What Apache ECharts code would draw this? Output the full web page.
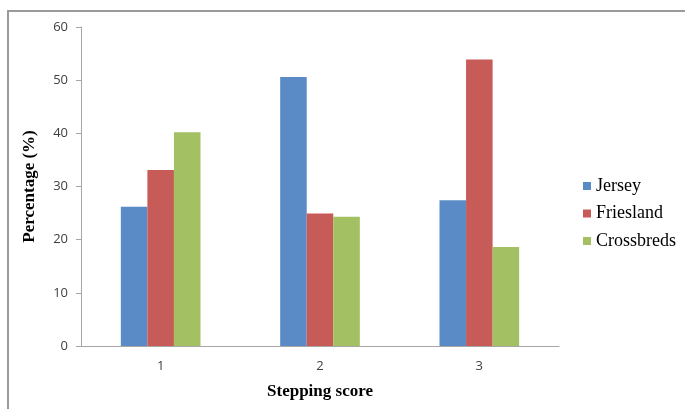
<!DOCTYPE html>
<html>
<head>
<meta charset="utf-8">
<style>
  html, body { margin: 0; padding: 0; background: #fff; }
  #chart { width: 685px; height: 409px; }
</style>
<script src="https://cdn.jsdelivr.net/npm/echarts@6/dist/echarts.min.js"></script>
</head>
<body>
<div id="chart"></div>
<script>
// Stepping score distribution by breed (percentage of animals)
const categories = ['1', '2', '3'];
const jersey = [26.2, 50.6, 27.4];
const friesland = [33.1, 24.9, 53.9];
const crossbreds = [40.2, 24.3, 18.6];
const yTicks = { min: 0, max: 60, interval: 10 };

const chart = echarts.init(document.getElementById('chart'), null, { renderer: 'canvas' });

const tickFont = { fontFamily: 'Open Sans, Liberation Sans, sans-serif', fontSize: 13, color: '#404040' };
const titleFont = { fontFamily: 'Liberation Serif, Times New Roman, serif', fontSize: 17, fontWeight: 'bold', color: '#000' };

chart.setOption({
  backgroundColor: '#fff',
  animation: false,
  graphic: [
    {
      type: 'rect',
      shape: { x: 8, y: 11, width: 700, height: 420 },
      style: { fill: 'none', stroke: '#9a9a9a', lineWidth: 2 },
      silent: true
    }
  ],
  grid: { left: 81, right: 126, top: 27, bottom: 63, containLabel: false },
  legend: {
    orient: 'vertical',
    left: 583,
    top: 177,
    padding: 0,
    icon: 'rect',
    itemWidth: 8,
    itemHeight: 8,
    itemGap: 9.5,
    textStyle: { fontFamily: 'Liberation Serif, Times New Roman, serif', fontSize: 18, lineHeight: 18, color: '#000' },
    data: ['Jersey', 'Friesland', 'Crossbreds']
  },
  xAxis: {
    type: 'category',
    data: categories,
    name: 'Stepping score',
    nameLocation: 'middle',
    nameGap: 37,
    nameTextStyle: titleFont,
    axisLine: { lineStyle: { color: '#a6a6a6', width: 1 } },
    axisTick: { show: false },
    axisLabel: Object.assign({ margin: 14 }, tickFont)
  },
  yAxis: {
    type: 'value',
    min: yTicks.min,
    max: yTicks.max,
    interval: yTicks.interval,
    name: 'Percentage (%)',
    nameLocation: 'middle',
    nameGap: 43,
    nameTextStyle: titleFont,
    axisLine: { show: true, lineStyle: { color: '#a6a6a6', width: 1 } },
    axisTick: { show: true, length: 5, lineStyle: { color: '#a6a6a6' } },
    axisLabel: Object.assign({ margin: 13 }, tickFont),
    splitLine: { show: false }
  },
  series: [
    { name: 'Jersey', type: 'bar', data: jersey, barGap: '0%', barCategoryGap: '50%', itemStyle: { color: '#5B8BC6' } },
    { name: 'Friesland', type: 'bar', data: friesland, itemStyle: { color: '#C65B57' } },
    { name: 'Crossbreds', type: 'bar', data: crossbreds, itemStyle: { color: '#A3C163' } }
  ]
});
</script>
</body>
</html>
